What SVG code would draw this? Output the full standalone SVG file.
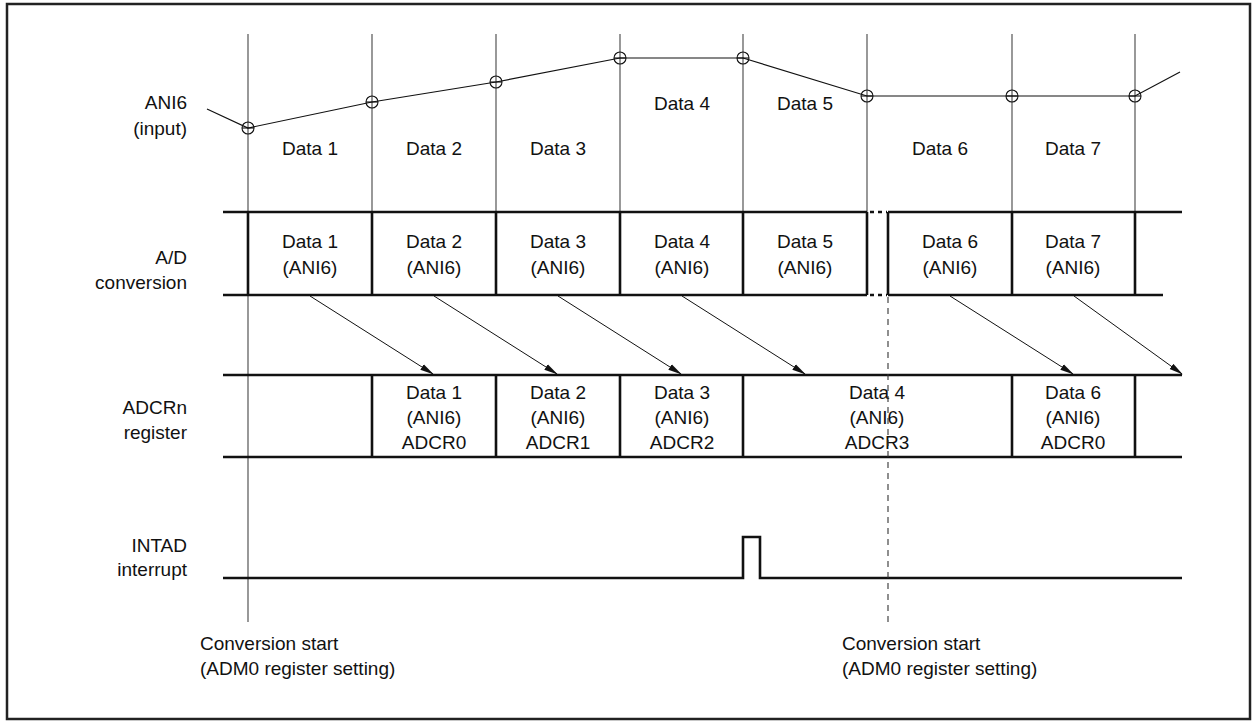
<svg xmlns="http://www.w3.org/2000/svg" width="1258" height="724" viewBox="0 0 1258 724">
<style>
text{font-family:"Liberation Sans",Arial,sans-serif;font-size:19px;fill:#111}
.c{text-anchor:middle}
.r{text-anchor:end}
.grid{stroke:#555;stroke-width:1.2;fill:none}
.thick{stroke:#111;stroke-width:2.6;fill:none}
.dot{stroke:#111;stroke-width:2.6;fill:none;stroke-dasharray:4 4}
.wave{stroke:#111;stroke-width:1.2;fill:none}
.pt{stroke:#111;stroke-width:1.1;fill:none}
.dash{stroke:#333;stroke-width:1.1;fill:none;stroke-dasharray:6 5}
.arr{stroke:#111;stroke-width:1;fill:none;marker-end:url(#ah)}
</style>
<defs>
<marker id="ah" markerWidth="14" markerHeight="8" refX="13" refY="4" orient="auto" markerUnits="userSpaceOnUse">
<path d="M0,0.8 L14,4 L0,7.2 z" fill="#111"/>
</marker>
</defs>
<rect x="7" y="4" width="1243" height="715" fill="#fff" stroke="#222" stroke-width="2.5"/>

<g id="labels">
<text class="r" x="187" y="109">ANI6</text>
<text class="r" x="187" y="135">(input)</text>
<text class="r" x="187" y="264">A/D</text>
<text class="r" x="187" y="289">conversion</text>
<text class="r" x="187" y="414">ADCRn</text>
<text class="r" x="187" y="439">register</text>
<text class="r" x="187" y="552">INTAD</text>
<text class="r" x="187" y="576">interrupt</text>
</g>

<g id="grid">
<path class="grid" d="M248,34 V622 M372,34 V212 M496,34 V212 M620,34 V212 M743,34 V212 M867,34 V212 M1012,34 V212 M1135,34 V212"/>
</g>

<g id="ani6-input">
<path class="wave" d="M207,109 L248,128 L372,102 L496,82 L620,58 L743,58 L867,96 L1012,96 L1135,96 L1180,72"/>
<g class="pt">
<circle cx="248" cy="128" r="6"/><path d="M242,128 H254"/>
<circle cx="372" cy="102" r="6"/><path d="M366,102 H378"/>
<circle cx="496" cy="82" r="6"/><path d="M490,82 H502"/>
<circle cx="620" cy="58" r="6"/><path d="M614,58 H626"/>
<circle cx="743" cy="58" r="6"/><path d="M737,58 H749"/>
<circle cx="867" cy="96" r="6"/><path d="M861,96 H873"/>
<circle cx="1012" cy="96" r="6"/><path d="M1006,96 H1018"/>
<circle cx="1135" cy="96" r="6"/><path d="M1129,96 H1141"/>
</g>
<text class="c" x="310" y="155">Data 1</text>
<text class="c" x="434" y="155">Data 2</text>
<text class="c" x="558" y="155">Data 3</text>
<text class="c" x="682" y="110">Data 4</text>
<text class="c" x="805" y="110">Data 5</text>
<text class="c" x="940" y="155">Data 6</text>
<text class="c" x="1073" y="155">Data 7</text>
</g>

<g id="ad-conversion">
<path class="thick" d="M223,212 H867 M888,212 H1182 M223,295 H867 M888,295 H1163"/>
<path class="dot" d="M870,212 H887 M870,295 H887"/>
<path class="thick" d="M248,212 V295 M372,212 V295 M496,212 V295 M620,212 V295 M743,212 V295 M867,212 V295 M888,212 V295 M1012,212 V295 M1135,212 V295"/>
<g id="ad1"><text class="c" x="310" y="248">Data 1</text><text class="c" x="310" y="274">(ANI6)</text></g>
<g id="ad2"><text class="c" x="434" y="248">Data 2</text><text class="c" x="434" y="274">(ANI6)</text></g>
<g id="ad3"><text class="c" x="558" y="248">Data 3</text><text class="c" x="558" y="274">(ANI6)</text></g>
<g id="ad4"><text class="c" x="682" y="248">Data 4</text><text class="c" x="682" y="274">(ANI6)</text></g>
<g id="ad5"><text class="c" x="805" y="248">Data 5</text><text class="c" x="805" y="274">(ANI6)</text></g>
<g id="ad6"><text class="c" x="950" y="248">Data 6</text><text class="c" x="950" y="274">(ANI6)</text></g>
<g id="ad7"><text class="c" x="1073" y="248">Data 7</text><text class="c" x="1073" y="274">(ANI6)</text></g>
</g>

<g id="adcr-register">
<path class="thick" d="M223,375 H1182 M223,457 H1182"/>
<path class="thick" d="M372,375 V457 M496,375 V457 M620,375 V457 M743,375 V457 M1012,375 V457 M1135,375 V457"/>
<g id="r1"><text class="c" x="434" y="399">Data 1</text><text class="c" x="434" y="424">(ANI6)</text><text class="c" x="434" y="449">ADCR0</text></g>
<g id="r2"><text class="c" x="558" y="399">Data 2</text><text class="c" x="558" y="424">(ANI6)</text><text class="c" x="558" y="449">ADCR1</text></g>
<g id="r3"><text class="c" x="682" y="399">Data 3</text><text class="c" x="682" y="424">(ANI6)</text><text class="c" x="682" y="449">ADCR2</text></g>
<g id="r4"><text class="c" x="877" y="399">Data 4</text><text class="c" x="877" y="424">(ANI6)</text><text class="c" x="877" y="449">ADCR3</text></g>
<g id="r6"><text class="c" x="1073" y="399">Data 6</text><text class="c" x="1073" y="424">(ANI6)</text><text class="c" x="1073" y="449">ADCR0</text></g>
</g>

<g id="intad">
<path class="thick" d="M223,578 H743 V537 H760 V578 H1182"/>
</g>

<g id="connectors">
<path class="arr" d="M310,296 L433,374"/>
<path class="arr" d="M434,296 L557,374"/>
<path class="arr" d="M558,296 L681,374"/>
<path class="arr" d="M682,296 L805,374"/>
<path class="arr" d="M950,296 L1073,374"/>
<path class="arr" d="M1074,296 L1182,374"/>
</g>

<g id="conversion-start">
<path class="dash" d="M888,297 V622"/>
<text x="200" y="650">Conversion start</text>
<text x="200" y="675">(ADM0 register setting)</text>
<text x="842" y="650">Conversion start</text>
<text x="842" y="675">(ADM0 register setting)</text>
</g>
</svg>
